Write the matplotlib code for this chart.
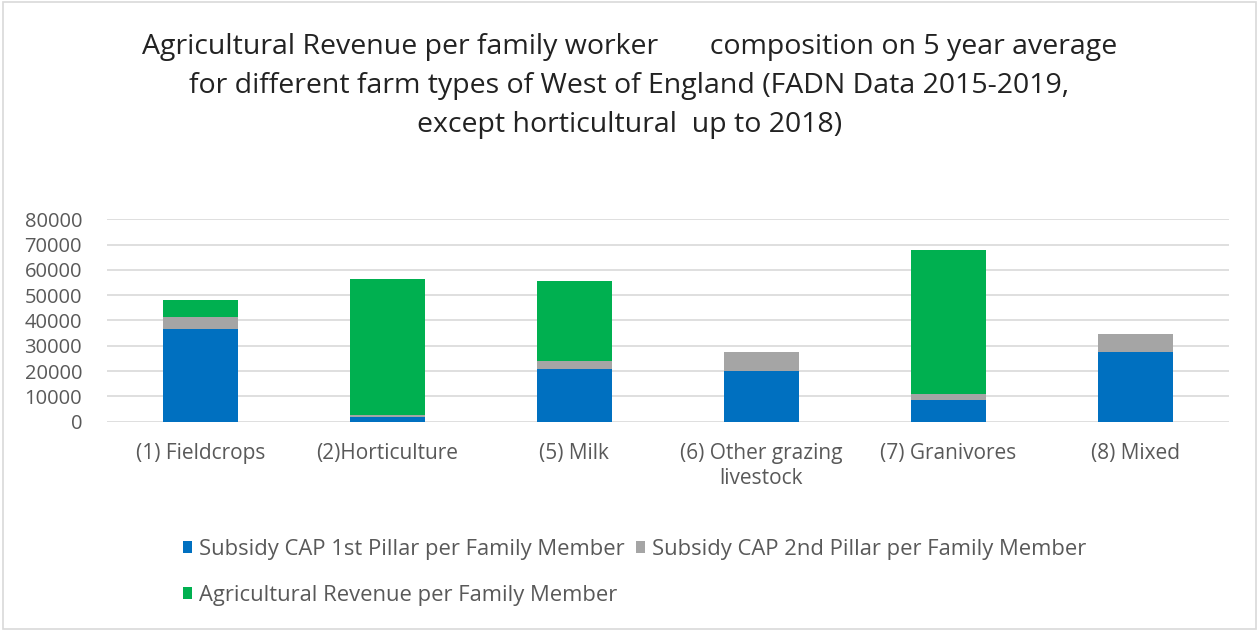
import matplotlib.pyplot as plt
import numpy as np
from matplotlib.patches import Rectangle

plt.rcParams['font.family'] = ['Open Sans', 'DejaVu Sans']

# ---- data ----
categories = ["(1) Fieldcrops", "(2)Horticulture", "(5) Milk",
              "(6) Other grazing\nlivestock", "(7) Granivores", "(8) Mixed"]
pillar1 = [36500, 1700, 20700, 19900, 8500, 27400]
pillar2 = [4800, 800, 3300, 7500, 2300, 7400]
revenue = [6800, 53800, 31500, 0, 57100, 0]
yticks = [0, 10000, 20000, 30000, 40000, 50000, 60000, 70000, 80000]

series_names = ["Subsidy CAP 1st Pillar per Family Member",
                "Subsidy CAP 2nd Pillar per Family Member",
                "Agricultural Revenue per Family Member"]
colors = ["#0070C0", "#A5A5A5", "#00B050"]
txt_color = "#595959"

fig = plt.figure(figsize=(12.59, 6.31), dpi=100)
ax = fig.add_axes([0.085, 0.3317, 0.891, 0.3208])

x = np.arange(len(categories))
w = 0.40
p1 = np.array(pillar1)
p2 = np.array(pillar2)
b1 = ax.bar(x, p1, w, color=colors[0], zorder=3)
b2 = ax.bar(x, p2, w, bottom=p1, color=colors[1], zorder=3)
b3 = ax.bar(x, revenue, w, bottom=p1 + p2, color=colors[2], zorder=3)

# axes styling, Excel-like
ax.set_xlim(-0.5, len(categories) - 0.5)
ax.set_ylim(0, 80000)
ax.set_yticks(yticks)
ax.set_yticklabels([str(t) for t in yticks])
ax.set_xticks(x)
ax.set_xticklabels(categories, linespacing=1.3)
ax.grid(axis='y', color='#d9d9d9', linewidth=1.2, zorder=0)
for s in ax.spines.values():
    s.set_visible(False)
ax.tick_params(axis='both', length=0, colors=txt_color)
ax.tick_params(axis='x', pad=15, labelsize=15)
ax.tick_params(axis='y', pad=18, labelsize=14.5)

# title
fig.text(0.5, 0.948,
         "Agricultural Revenue per family worker       composition on 5 year average\n"
         "for different farm types of West of England (FADN Data 2015-2019,\n"
         "except horticultural  up to 2018)",
         ha='center', va='top', fontsize=20.5, color='#222222', linespacing=1.52)

# legend: row 1 = 1st and 2nd pillar, row 2 = revenue
leg = fig.legend([b1, b3, b2], [series_names[0], series_names[2], series_names[1]],
                 ncol=2, loc='upper left', bbox_to_anchor=(0.138, 0.160),
                 frameon=False, fontsize=15.8, handlelength=0.45, handleheight=0.45,
                 handletextpad=0.3, columnspacing=0.5, labelspacing=1.15,
                 borderaxespad=0)
for t in leg.get_texts():
    t.set_color(txt_color)

# light border around the whole chart
fig.patches.append(Rectangle((0.002, 0.003), 0.996, 0.994, transform=fig.transFigure,
                             fill=False, edgecolor='#d9d9d9', linewidth=1.2))

fig.savefig("out.png", dpi=100)
